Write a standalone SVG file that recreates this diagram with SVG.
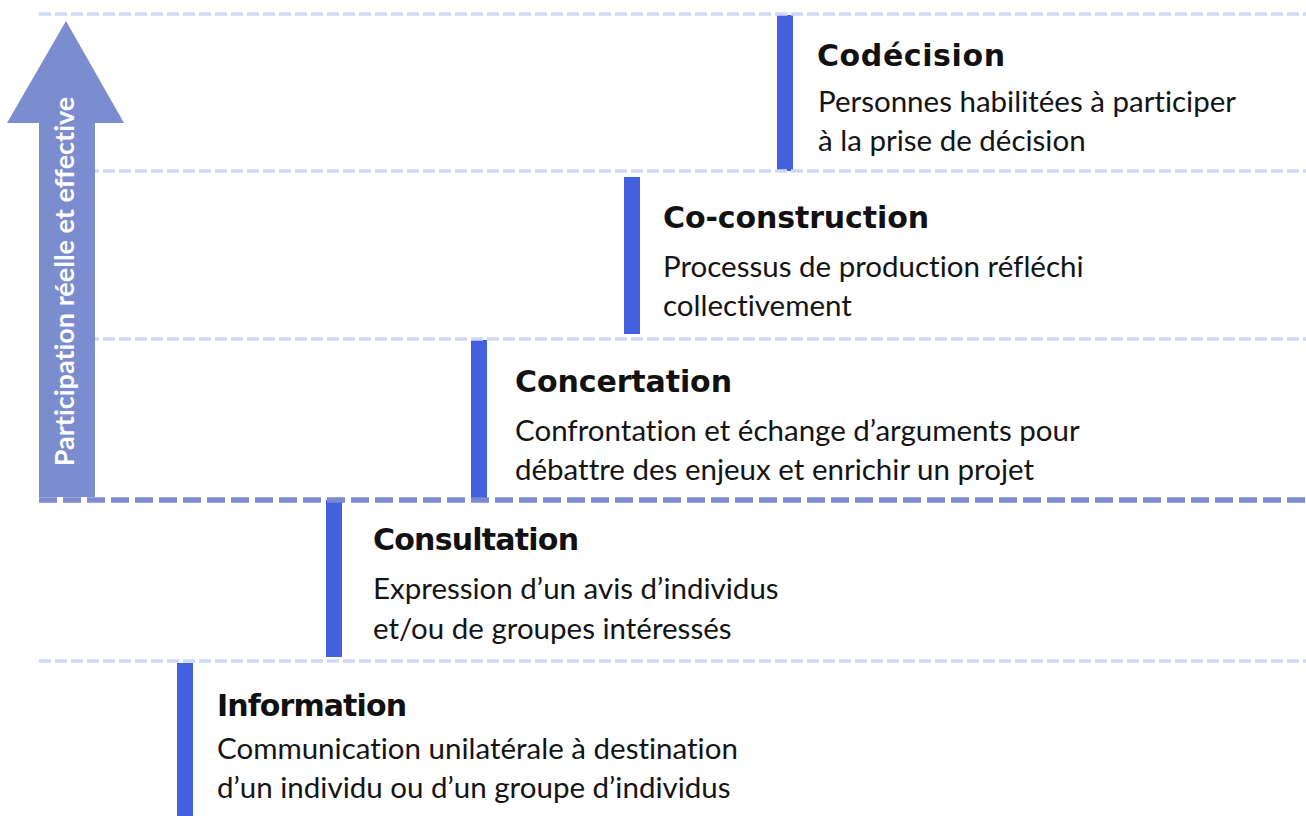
<svg xmlns="http://www.w3.org/2000/svg" width="1306" height="816" viewBox="0 0 1306 816">
  <style>
    .bar { fill: #4361de; }
    .title { font-family: "DejaVu Sans", "Liberation Sans", sans-serif; font-weight: 700; font-size: 30px; fill: #111111; }
    .body { font-family: "Lato", "Liberation Sans", sans-serif; font-size: 29.5px; fill: #141414; font-variant-ligatures: none; }
    .guide { fill: none; stroke: #cfd7f6; stroke-width: 3.5; stroke-dasharray: 12 4; }
    .guide-strong { fill: none; stroke: #7b8bd0; stroke-width: 5.5; stroke-dasharray: 18 6; }
    .arrow { fill: #7b8dcf; }
    .arrow-label { font-family: "Lato", "Liberation Sans", sans-serif; font-weight: 700; font-size: 27px; fill: #ffffff; font-variant-ligatures: none; }
  </style>
  <rect width="1306" height="816" fill="#ffffff"/>

  <g id="arrow">
    <polygon class="arrow" points="66,21 124,123 95,123 95,497 39,497 39,123 7,123"/>
    <text class="arrow-label" transform="translate(74,281.5) rotate(-90)" text-anchor="middle">Participation réelle et effective</text>
  </g>

  <g id="codecision">
    <rect class="bar" x="777" y="15" width="16" height="156"/>
    <text class="title" x="817" y="66" textLength="188" lengthAdjust="spacing">Codécision</text>
    <text class="body" x="818" y="112">Personnes habilitées à participer</text>
    <text class="body" x="818" y="151">à la prise de décision</text>
  </g>

  <g id="co-construction">
    <rect class="bar" x="624" y="177" width="16" height="157"/>
    <text class="title" x="663" y="228" textLength="266" lengthAdjust="spacing">Co-construction</text>
    <text class="body" x="663" y="277">Processus de production réfléchi</text>
    <text class="body" x="663" y="316">collectivement</text>
  </g>

  <g id="concertation">
    <rect class="bar" x="471" y="340" width="16" height="158"/>
    <text class="title" x="515" y="392" textLength="217" lengthAdjust="spacing">Concertation</text>
    <text class="body" x="515" y="441">Confrontation et échange d’arguments pour</text>
    <text class="body" x="515" y="480">débattre des enjeux et enrichir un projet</text>
  </g>

  <g id="consultation">
    <rect class="bar" x="326" y="500" width="16" height="157"/>
    <text class="title" x="373" y="550" textLength="206" lengthAdjust="spacing">Consultation</text>
    <text class="body" x="373" y="599">Expression d’un avis d’individus</text>
    <text class="body" x="373" y="639">et/ou de groupes intéressés</text>
  </g>

  <g id="information">
    <rect class="bar" x="177" y="663" width="16" height="153"/>
    <text class="title" x="217" y="716" textLength="190" lengthAdjust="spacing">Information</text>
    <text class="body" x="217" y="759">Communication unilatérale à destination</text>
    <text class="body" x="217" y="798">d’un individu ou d’un groupe d’individus</text>
  </g>

  <g id="connectors">
    <line class="guide" x1="39" y1="14" x2="1306" y2="14"/>
    <line class="guide" x1="95" y1="171" x2="1306" y2="171" stroke-dashoffset="8"/>
    <line class="guide" x1="95" y1="339" x2="1306" y2="339" stroke-dashoffset="8"/>
    <line class="guide-strong" x1="39" y1="500" x2="1306" y2="500"/>
    <line class="guide" x1="39" y1="661" x2="1306" y2="661"/>
  </g>
</svg>
